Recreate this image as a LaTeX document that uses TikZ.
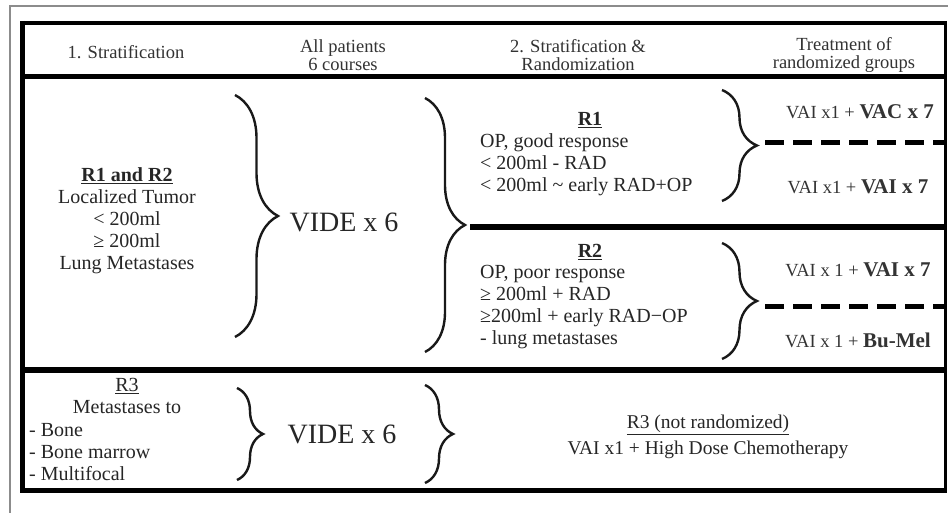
\documentclass[tikz,border=0pt]{standalone}
\usepackage{fontspec}
\setmainfont{Liberation Serif}
\usetikzlibrary{decorations.pathreplacing}
\newcommand{\bigb}[1]{{\fontsize{21}{22}\selectfont\bfseries #1}}
\begin{document}
\begin{tikzpicture}[x=1pt,y=-1pt,
  txt/.style={inner sep=0pt, text=black!85, font=\fontsize{20}{22}\selectfont},
  arm/.style={inner sep=0pt, text=black!80, font=\fontsize{18.5}{22}\selectfont},
  hdr/.style={inner sep=0pt, text=black!80, font=\fontsize{18.5}{18}\selectfont, align=center},
  big/.style={inner sep=0pt, text=black!85, font=\fontsize{28}{30}\selectfont},
  rulew/.style={line width=#1, black},
  curly/.style={decorate, decoration={brace, amplitude=#1}, line width=2.4pt, black!90},
  dashrule/.style={line width=5pt, black, dash pattern=on 19pt off 9pt},
]
\useasboundingbox (0,0) rectangle (948,513);
\fill[white] (0,0) rectangle (948,513);
% outer gray frame
\draw[line width=2.5pt, black!45] (960,6) -- (10,6) -- (10,520);
% black table frame
\draw[rulew=4pt] (20,23) -- (947,23);
\draw[rulew=5pt] (20,77) -- (947,77);
\draw[rulew=6pt] (20,370) -- (947,370);
\draw[rulew=5pt] (20,490) -- (947,490);
\draw[rulew=5pt] (22,21) -- (22,492);
\draw[rulew=3pt] (945,21) -- (945,492);

% header
\node[hdr] (h1) at (126,52) {1. Stratification};
\node[hdr] (h2) at (343,55) {All patients\\6 courses};
\node[hdr] (h3) at (578,55) {2. Stratification \&\\Randomization};
\node[hdr] (h4) at (844,55) {Treatment of\\randomized groups};

% left column, top
\node[txt, align=center] (lt) at (127,221) {\textbf{\underline{R1 and R2}}\\Localized Tumor\\< 200ml\\≥ 200ml\\Lung Metastases};

% brace 1 and VIDE
\coordinate (b1t) at (235,95);
\coordinate (b1b) at (235,337);
\draw[curly=43pt] (b1t) -- (b1b);
\node[big] (v1) at (344,222) {VIDE x 6};

% brace 2
\coordinate (b2t) at (425,98);
\coordinate (b2b) at (425,352);
\draw[curly=40pt] (b2t) -- (b2b);
\coordinate (b2tip) at (470,227);
\coordinate (b2end) at (945,227);
\draw[rulew=6pt] (b2tip) -- (b2end);

% R1 block
\node[txt] (r1t) at (590,120) {\textbf{\underline{R1}}};
\node[txt, anchor=west, align=left] (r1b) at (480,165) {OP, good response\\< 200ml - RAD\\< 200ml \textasciitilde{} early RAD+OP};

% R2 block
\node[txt] (r2t) at (590,252) {\textbf{\underline{R2}}};
\node[txt, anchor=west, align=left] (r2b) at (480,307) {OP, poor response\\≥ 200ml + RAD\\≥200ml + early RAD−OP\\- lung metastases};

% brace 3 (R1 arms)
\coordinate (b3t) at (722,90);
\coordinate (b3b) at (722,201);
\draw[curly=35pt] (b3t) -- (b3b);
\coordinate (d1s) at (765,143);
\coordinate (d1e) at (945,143);
\draw[dashrule] (d1s) -- (d1e);
\node[arm] (a1) at (860,112) {VAI x1 + \bigb{VAC x 7}};
\node[arm] (a2) at (858,187) {VAI x1 + \bigb{VAI x 7}};

% brace 4 (R2 arms)
\coordinate (b4t) at (722,243);
\coordinate (b4b) at (722,359);
\draw[curly=35pt] (b4t) -- (b4b);
\coordinate (d2s) at (765,306);
\coordinate (d2e) at (945,306);
\draw[dashrule] (d2s) -- (d2e);
\node[arm] (a3) at (858,270) {VAI x 1 + \bigb{VAI x 7}};
\node[arm] (a4) at (858,340) {VAI x 1 + \bigb{Bu-Mel}};

% bottom row
\node[txt, align=center] (r3t) at (127,396) {\underline{R3}\\Metastases to};
\node[txt, anchor=west, align=left] (r3l) at (29,452) {- Bone\\- Bone marrow\\- Multifocal};
\coordinate (b5t) at (237,388);
\coordinate (b5b) at (237,480);
\draw[curly=26pt] (b5t) -- (b5b);
\node[big] (v2) at (342,434) {VIDE x 6};
\coordinate (b6t) at (425,385);
\coordinate (b6b) at (425,483);
\draw[curly=28pt] (b6t) -- (b6b);
\node[txt, align=center, font=\fontsize{19.5}{25.5}\selectfont] (r3r) at (708,437) {\underline{R3 (not randomized)}\\VAI x1 + High Dose Chemotherapy};
\end{tikzpicture}
\end{document}
